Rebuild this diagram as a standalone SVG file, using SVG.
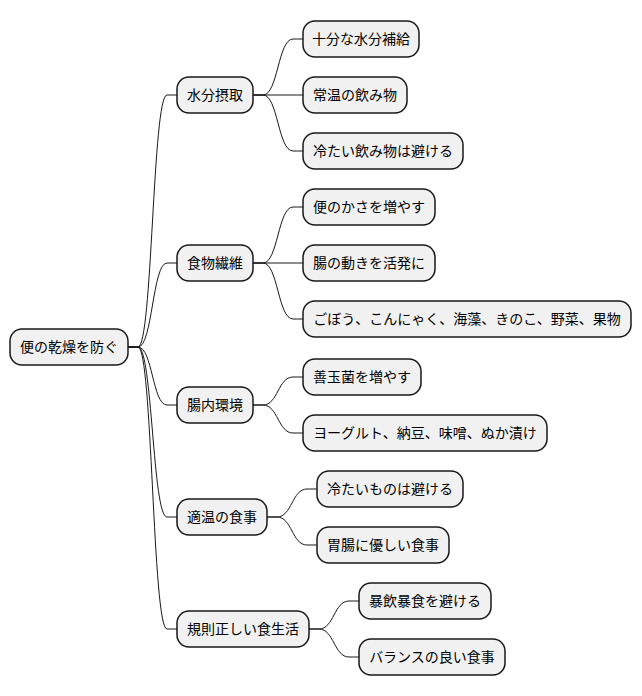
<svg xmlns="http://www.w3.org/2000/svg" width="642" height="696" viewBox="0 0 642 696">
<style>
.n rect{fill:#F1F1F1;stroke:#181818;stroke-width:1.5}
.n text{font-family:"Noto Sans CJK JP","Noto Sans",sans-serif;font-size:14px;fill:#000;text-anchor:middle}
#links path{fill:none;stroke:#181818;stroke-width:1}
</style>
<rect width="642" height="696" fill="#FFFFFF"/>
<g id="links">
<path d="M128,347 L138,347 C152.5,347 152.5,95 167,95 L177,95"/>
<path d="M128,347 L138,347 C152.5,347 152.5,263 167,263 L177,263"/>
<path d="M128,347 L138,347 C152.5,347 152.5,405 167,405 L177,405"/>
<path d="M128,347 L138,347 C152.5,347 152.5,517 167,517 L177,517"/>
<path d="M128,347 L138,347 C152.5,347 152.5,629 167,629 L177,629"/>
<path d="M253,95 L263,95 C278,95 278,39 293,39 L303,39"/>
<path d="M253,95 L263,95 C278,95 278,95 293,95 L303,95"/>
<path d="M253,95 L263,95 C278,95 278,151 293,151 L303,151"/>
<path d="M253,263 L263,263 C278,263 278,207 293,207 L303,207"/>
<path d="M253,263 L263,263 C278,263 278,263 293,263 L303,263"/>
<path d="M253,263 L263,263 C278,263 278,319 293,319 L303,319"/>
<path d="M253,405 L263,405 C278,405 278,377 293,377 L303,377"/>
<path d="M253,405 L263,405 C278,405 278,433 293,433 L303,433"/>
<path d="M267,517 L277,517 C292,517 292,489 307,489 L317,489"/>
<path d="M267,517 L277,517 C292,517 292,545 307,545 L317,545"/>
<path d="M309,629 L319,629 C334,629 334,601 349,601 L359,601"/>
<path d="M309,629 L319,629 C334,629 334,657 349,657 L359,657"/>
</g>
<g id="root" class="n"><rect x="10" y="329" width="118" height="36" rx="12"/><text x="69" y="352">便の乾燥を防ぐ</text></g>
<g id="n1" class="n"><rect x="177" y="77" width="76" height="36" rx="12"/><text x="215" y="100">水分摂取</text></g>
<g id="n11" class="n"><rect x="303" y="21" width="116" height="36" rx="12"/><text x="361" y="44">十分な水分補給</text></g>
<g id="n12" class="n"><rect x="303" y="77" width="104" height="36" rx="12"/><text x="355" y="100">常温の飲み物</text></g>
<g id="n13" class="n"><rect x="303" y="133" width="160" height="36" rx="12"/><text x="383" y="156">冷たい飲み物は避ける</text></g>
<g id="n2" class="n"><rect x="177" y="245" width="76" height="36" rx="12"/><text x="215" y="268">食物繊維</text></g>
<g id="n21" class="n"><rect x="303" y="189" width="132" height="36" rx="12"/><text x="369" y="212">便のかさを増やす</text></g>
<g id="n22" class="n"><rect x="303" y="245" width="132" height="36" rx="12"/><text x="369" y="268">腸の動きを活発に</text></g>
<g id="n23" class="n"><rect x="303" y="301" width="328" height="36" rx="12"/><text x="467" y="324">ごぼう、こんにゃく、海藻、きのこ、野菜、果物</text></g>
<g id="n3" class="n"><rect x="177" y="387" width="76" height="36" rx="12"/><text x="215" y="410">腸内環境</text></g>
<g id="n31" class="n"><rect x="303" y="359" width="118" height="36" rx="12"/><text x="362" y="382">善玉菌を増やす</text></g>
<g id="n32" class="n"><rect x="303" y="415" width="244" height="36" rx="12"/><text x="425" y="438">ヨーグルト、納豆、味噌、ぬか漬け</text></g>
<g id="n4" class="n"><rect x="177" y="499" width="90" height="36" rx="12"/><text x="222" y="522">適温の食事</text></g>
<g id="n41" class="n"><rect x="317" y="471" width="146" height="36" rx="12"/><text x="390" y="494">冷たいものは避ける</text></g>
<g id="n42" class="n"><rect x="317" y="527" width="132" height="36" rx="12"/><text x="383" y="550">胃腸に優しい食事</text></g>
<g id="n5" class="n"><rect x="177" y="611" width="132" height="36" rx="12"/><text x="243" y="634">規則正しい食生活</text></g>
<g id="n51" class="n"><rect x="359" y="583" width="132" height="36" rx="12"/><text x="425" y="606">暴飲暴食を避ける</text></g>
<g id="n52" class="n"><rect x="359" y="639" width="146" height="36" rx="12"/><text x="432" y="662">バランスの良い食事</text></g>
</svg>
